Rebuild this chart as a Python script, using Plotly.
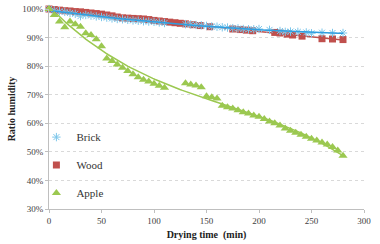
import numpy as np
import plotly.graph_objects as go

# ---- data ----
apple_t = [0, 5, 10, 15, 20, 25, 30, 35, 40, 45, 50, 55, 60, 65, 70, 75, 80, 85, 90, 95, 100, 105, 110,
           130, 135, 140, 145, 150, 155, 160, 165, 170, 175, 180, 185, 190, 195, 200, 205, 210, 215,
           220, 225, 230, 235, 240, 245, 250, 255, 260, 265, 270, 275, 280]
apple_v = [100.0, 97.9, 95.6, 93.6, 95.6, 94.7, 93.8, 91.5, 90.9, 89.4, 87.0, 82.7, 81.8, 80.6, 79.4,
           78.3, 77.2, 76.1, 75.2, 74.6, 73.8, 73.1, 72.4,
           74.0, 73.6, 73.2, 72.6, 69.5, 69.1, 68.7, 66.1, 65.6, 65.2, 64.6, 63.9, 63.4, 62.7, 62.3,
           61.5, 60.6, 60.0, 59.2, 58.2, 57.4, 56.7, 56.0, 55.3, 54.6, 54.0, 53.3, 52.6, 51.7, 50.5, 48.6]

wood_t = [0, 5, 10, 15, 20, 25, 30, 35, 40, 45, 50, 55, 60, 65, 70, 75, 80, 85, 90, 95, 100, 105, 110,
          115, 120, 125, 130, 137, 144, 153, 175, 182, 188, 194, 215, 220, 227, 232, 241, 260, 270, 280]
wood_v = [100.0, 99.8, 99.6, 99.4, 99.3, 99.1, 99.0, 98.8, 98.6, 98.4, 98.2, 97.9, 97.6, 97.2, 96.9,
          96.8, 96.7, 96.6, 96.5, 96.3, 96.0, 95.8, 95.6, 95.4, 95.2, 95.0, 94.8, 94.5, 94.2, 93.8,
          93.0, 92.8, 92.6, 92.4, 91.8, 91.6, 91.2, 90.9, 90.5, 89.6, 89.5, 89.3]

brick_t = [0, 5, 10, 15, 20, 25, 30, 35, 40, 45, 50, 55, 60, 65, 70, 75, 80, 85, 90, 95, 100, 105, 110,
           130, 135, 140, 145, 150, 155, 160, 165, 170, 175, 180, 185, 190, 195, 200, 210, 220, 225,
           230, 237, 245, 250, 260, 270, 280]
brick_v = [100.0, 99.5, 99.2, 99.0, 98.6, 98.3, 97.5, 97.9, 97.7, 97.4, 97.2, 97.0, 96.7, 96.5, 96.4,
           96.2, 96.0, 95.9, 95.7, 95.6, 95.5, 95.3, 95.1, 94.7, 94.6, 94.4, 94.3, 94.1, 93.9, 93.8,
           93.6, 93.5, 93.3, 93.2, 93.0, 92.9, 92.9, 93.0, 92.7, 92.3, 92.0, 92.1, 92.0, 91.8, 91.5,
           91.7, 91.6, 91.6]

series_names = ["Brick", "Wood", "Apple"]
y_ticks = [30, 40, 50, 60, 70, 80, 90, 100]
y_tick_labels = ["30%", "40%", "50%", "60%", "70%", "80%", "90%", "100%"]
x_ticks = [0, 50, 100, 150, 200, 250, 300]

FONT = "Liberation Serif, Times New Roman, serif"
brick_col = "#7cc6ea"
brick_line = "#2f9ee0"
wood_col = "#c0504d"
apple_col = "#9bc850"


def trend(t, v, deg):
    c = np.polyfit(t, v, deg)
    xs = np.linspace(min(t), max(t), 120)
    return xs, np.polyval(c, xs)


fig = go.Figure()

bx, by = trend(brick_t, brick_v, 2)
wx, wy = trend(wood_t, wood_v, 2)
ax_, ay_ = trend(apple_t, apple_v, 3)

fig.add_trace(go.Scatter(x=wx, y=wy, mode="lines", line=dict(color=wood_col, width=1.5),
                         showlegend=False, hoverinfo="skip", cliponaxis=False))
fig.add_trace(go.Scatter(x=ax_, y=ay_, mode="lines", line=dict(color=apple_col, width=1.5),
                         showlegend=False, hoverinfo="skip", cliponaxis=False))

fig.add_trace(go.Scatter(x=wood_t, y=wood_v, mode="markers", name=series_names[1],
                         legendgroup="b", legendrank=2,
                         marker=dict(symbol="square", size=7, color=wood_col),
                         cliponaxis=False))
fig.add_trace(go.Scatter(x=brick_t, y=brick_v, mode="markers", name=series_names[0],
                         legendgroup="a", legendrank=1,
                         marker=dict(symbol="asterisk-open", size=7, color=brick_col,
                                     line=dict(color=brick_col, width=1)),
                         cliponaxis=False))
fig.add_trace(go.Scatter(x=bx, y=by, mode="lines", line=dict(color=brick_line, width=1.5),
                         showlegend=False, hoverinfo="skip", cliponaxis=False))
fig.add_trace(go.Scatter(x=apple_t, y=apple_v, mode="markers", name=series_names[2],
                         legendgroup="c", legendrank=3,
                         marker=dict(symbol="triangle-up", size=8, color=apple_col),
                         cliponaxis=False))

fig.update_layout(
    width=380, height=244,
    margin=dict(l=49, r=16, t=9, b=35, autoexpand=False),
    paper_bgcolor="white", plot_bgcolor="white",
    font=dict(family=FONT, size=10, color="#333333"),
    showlegend=True,
    legend=dict(x=-0.04, y=0.432, xanchor="left", yanchor="top",
                bgcolor="rgba(0,0,0,0)", font=dict(family=FONT, size=11, color="#333333"),
                traceorder="grouped", tracegroupgap=9),
    xaxis=dict(range=[0, 300], tickvals=x_ticks, showgrid=False, zeroline=False,
               automargin=False,
               showline=True, linecolor="#bfbfbf", linewidth=1,
               ticks="outside", ticklen=3, tickcolor="#bfbfbf",
               tickfont=dict(family=FONT, size=9, color="#404040"),
               title=dict(text="<b>Drying time  (min)</b>", standoff=6,
                          font=dict(family=FONT, size=10, color="#222222"))),
    yaxis=dict(range=[30, 100], tickvals=y_ticks, ticktext=y_tick_labels,
               automargin=False,
               showgrid=True, gridcolor="#d9d9d9", griddash="dot", gridwidth=1,
               zeroline=False, showline=True, linecolor="#bfbfbf", linewidth=1,
               ticks="outside", ticklen=3, tickcolor="#bfbfbf",
               tickfont=dict(family=FONT, size=9, color="#404040"),
               title=dict(text="<b>Ratio humidity</b>", standoff=4,
                          font=dict(family=FONT, size=10, color="#222222"))),
)

# remove the page's default body margin so the figure sits at the window's top-left
fig.write_html("out.html", config={"displayModeBar": False},
               post_script="document.body.style.margin='0';")
